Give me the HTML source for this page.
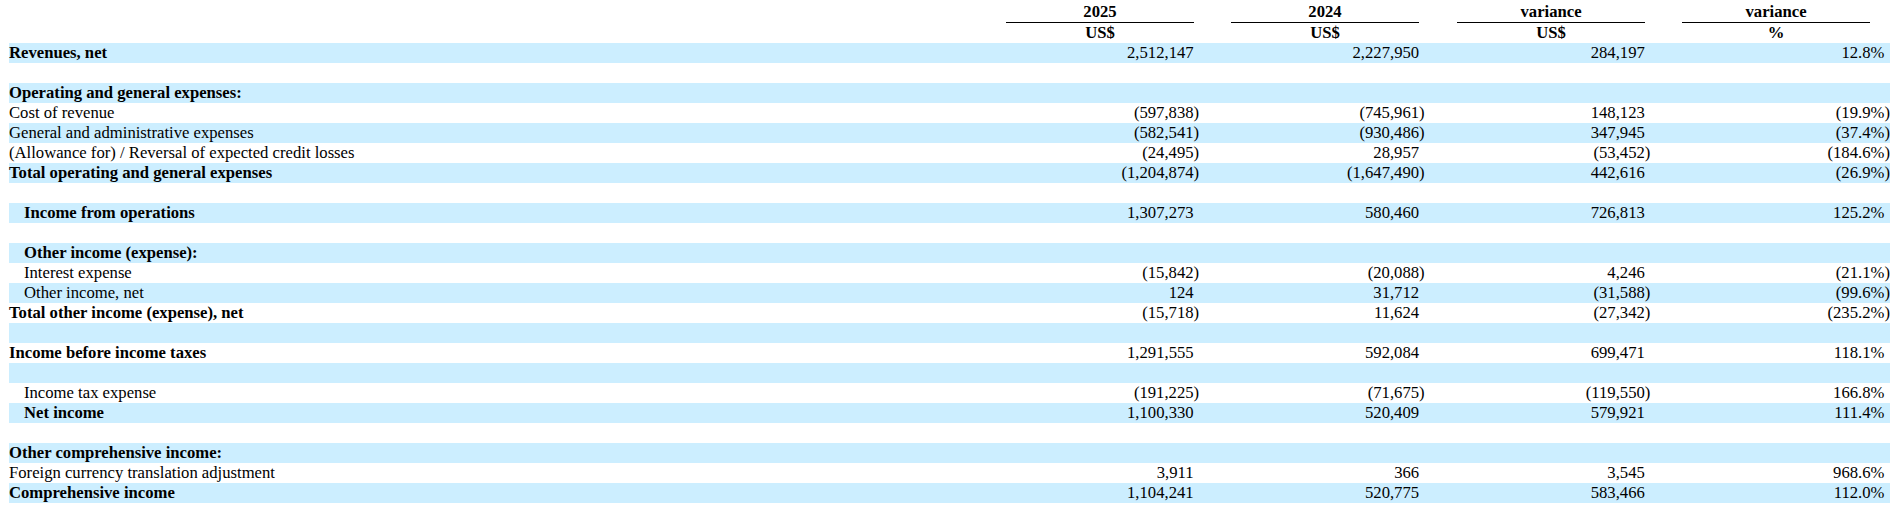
<!DOCTYPE html>
<html><head><meta charset="utf-8"><style>
html,body{margin:0;padding:0;background:#fff;}
body{width:1900px;height:515px;position:relative;overflow:hidden;font-family:"Liberation Serif",serif;font-size:16.667px;color:#000;line-height:20px;}
.r{position:absolute;left:9px;width:1881px;height:20px;}
.s{background:#cceeff;}
.l{position:absolute;top:0;white-space:nowrap;}
.b{font-weight:bold;}
.n{position:absolute;top:0;white-space:nowrap;text-align:right;}
.p{position:absolute;top:0;}
.h{position:absolute;height:20px;line-height:20px;text-align:center;font-weight:bold;white-space:nowrap;}
.u{position:absolute;height:1px;background:#000;}
</style></head><body>

<div class="h" style="left:1006px;width:188px;top:1.5px">2025</div>
<div class="u" style="left:1006px;width:188px;top:22px"></div>
<div class="h" style="left:1006px;width:188px;top:22.5px">US$</div>
<div class="h" style="left:1231px;width:188px;top:1.5px">2024</div>
<div class="u" style="left:1231px;width:188px;top:22px"></div>
<div class="h" style="left:1231px;width:188px;top:22.5px">US$</div>
<div class="h" style="left:1457px;width:188px;top:1.5px">variance</div>
<div class="u" style="left:1457px;width:188px;top:22px"></div>
<div class="h" style="left:1457px;width:188px;top:22.5px">US$</div>
<div class="h" style="left:1682px;width:188px;top:1.5px">variance</div>
<div class="u" style="left:1682px;width:188px;top:22px"></div>
<div class="h" style="left:1682px;width:188px;top:22.5px">%</div>
<div class="r s" style="top:43px">
<span class="l b" style="left:0px">Revenues, net</span>
<span class="n" style="right:696.4000000000001px">2,512,147</span>
<span class="n" style="right:470.9000000000001px">2,227,950</span>
<span class="n" style="right:245.20000000000005px">284,197</span>
<span class="n" style="right:5.599999999999909px">12.8%</span>
</div>
<div class="r" style="top:63px">
</div>
<div class="r s" style="top:83px">
<span class="l b" style="left:0px">Operating and general expenses:</span>
</div>
<div class="r" style="top:103px">
<span class="l" style="left:0px">Cost of revenue</span>
<span class="n" style="right:696.4000000000001px">(597,838</span>
<span class="p" style="left:1184.6px">)</span>
<span class="n" style="right:470.9000000000001px">(745,961</span>
<span class="p" style="left:1410.1px">)</span>
<span class="n" style="right:245.20000000000005px">148,123</span>
<span class="n" style="right:5.599999999999909px">(19.9%</span>
<span class="p" style="left:1875.4px">)</span>
</div>
<div class="r s" style="top:123px">
<span class="l" style="left:0px">General and administrative expenses</span>
<span class="n" style="right:696.4000000000001px">(582,541</span>
<span class="p" style="left:1184.6px">)</span>
<span class="n" style="right:470.9000000000001px">(930,486</span>
<span class="p" style="left:1410.1px">)</span>
<span class="n" style="right:245.20000000000005px">347,945</span>
<span class="n" style="right:5.599999999999909px">(37.4%</span>
<span class="p" style="left:1875.4px">)</span>
</div>
<div class="r" style="top:143px">
<span class="l" style="left:0px">(Allowance for) / Reversal of expected credit losses</span>
<span class="n" style="right:696.4000000000001px">(24,495</span>
<span class="p" style="left:1184.6px">)</span>
<span class="n" style="right:470.9000000000001px">28,957</span>
<span class="n" style="right:245.20000000000005px">(53,452</span>
<span class="p" style="left:1635.8px">)</span>
<span class="n" style="right:5.599999999999909px">(184.6%</span>
<span class="p" style="left:1875.4px">)</span>
</div>
<div class="r s" style="top:163px">
<span class="l b" style="left:0px">Total operating and general expenses</span>
<span class="n" style="right:696.4000000000001px">(1,204,874</span>
<span class="p" style="left:1184.6px">)</span>
<span class="n" style="right:470.9000000000001px">(1,647,490</span>
<span class="p" style="left:1410.1px">)</span>
<span class="n" style="right:245.20000000000005px">442,616</span>
<span class="n" style="right:5.599999999999909px">(26.9%</span>
<span class="p" style="left:1875.4px">)</span>
</div>
<div class="r" style="top:183px">
</div>
<div class="r s" style="top:203px">
<span class="l b" style="left:15px">Income from operations</span>
<span class="n" style="right:696.4000000000001px">1,307,273</span>
<span class="n" style="right:470.9000000000001px">580,460</span>
<span class="n" style="right:245.20000000000005px">726,813</span>
<span class="n" style="right:5.599999999999909px">125.2%</span>
</div>
<div class="r" style="top:223px">
</div>
<div class="r s" style="top:243px">
<span class="l b" style="left:15px">Other income (expense):</span>
</div>
<div class="r" style="top:263px">
<span class="l" style="left:15px">Interest expense</span>
<span class="n" style="right:696.4000000000001px">(15,842</span>
<span class="p" style="left:1184.6px">)</span>
<span class="n" style="right:470.9000000000001px">(20,088</span>
<span class="p" style="left:1410.1px">)</span>
<span class="n" style="right:245.20000000000005px">4,246</span>
<span class="n" style="right:5.599999999999909px">(21.1%</span>
<span class="p" style="left:1875.4px">)</span>
</div>
<div class="r s" style="top:283px">
<span class="l" style="left:15px">Other income, net</span>
<span class="n" style="right:696.4000000000001px">124</span>
<span class="n" style="right:470.9000000000001px">31,712</span>
<span class="n" style="right:245.20000000000005px">(31,588</span>
<span class="p" style="left:1635.8px">)</span>
<span class="n" style="right:5.599999999999909px">(99.6%</span>
<span class="p" style="left:1875.4px">)</span>
</div>
<div class="r" style="top:303px">
<span class="l b" style="left:0px">Total other income (expense), net</span>
<span class="n" style="right:696.4000000000001px">(15,718</span>
<span class="p" style="left:1184.6px">)</span>
<span class="n" style="right:470.9000000000001px">11,624</span>
<span class="n" style="right:245.20000000000005px">(27,342</span>
<span class="p" style="left:1635.8px">)</span>
<span class="n" style="right:5.599999999999909px">(235.2%</span>
<span class="p" style="left:1875.4px">)</span>
</div>
<div class="r s" style="top:323px">
</div>
<div class="r" style="top:343px">
<span class="l b" style="left:0px">Income before income taxes</span>
<span class="n" style="right:696.4000000000001px">1,291,555</span>
<span class="n" style="right:470.9000000000001px">592,084</span>
<span class="n" style="right:245.20000000000005px">699,471</span>
<span class="n" style="right:5.599999999999909px">118.1%</span>
</div>
<div class="r s" style="top:363px">
</div>
<div class="r" style="top:383px">
<span class="l" style="left:15px">Income tax expense</span>
<span class="n" style="right:696.4000000000001px">(191,225</span>
<span class="p" style="left:1184.6px">)</span>
<span class="n" style="right:470.9000000000001px">(71,675</span>
<span class="p" style="left:1410.1px">)</span>
<span class="n" style="right:245.20000000000005px">(119,550</span>
<span class="p" style="left:1635.8px">)</span>
<span class="n" style="right:5.599999999999909px">166.8%</span>
</div>
<div class="r s" style="top:403px">
<span class="l b" style="left:15px">Net income</span>
<span class="n" style="right:696.4000000000001px">1,100,330</span>
<span class="n" style="right:470.9000000000001px">520,409</span>
<span class="n" style="right:245.20000000000005px">579,921</span>
<span class="n" style="right:5.599999999999909px">111.4%</span>
</div>
<div class="r" style="top:423px">
</div>
<div class="r s" style="top:443px">
<span class="l b" style="left:0px">Other comprehensive income:</span>
</div>
<div class="r" style="top:463px">
<span class="l" style="left:0px">Foreign currency translation adjustment</span>
<span class="n" style="right:696.4000000000001px">3,911</span>
<span class="n" style="right:470.9000000000001px">366</span>
<span class="n" style="right:245.20000000000005px">3,545</span>
<span class="n" style="right:5.599999999999909px">968.6%</span>
</div>
<div class="r s" style="top:483px">
<span class="l b" style="left:0px">Comprehensive income</span>
<span class="n" style="right:696.4000000000001px">1,104,241</span>
<span class="n" style="right:470.9000000000001px">520,775</span>
<span class="n" style="right:245.20000000000005px">583,466</span>
<span class="n" style="right:5.599999999999909px">112.0%</span>
</div>
</body></html>
